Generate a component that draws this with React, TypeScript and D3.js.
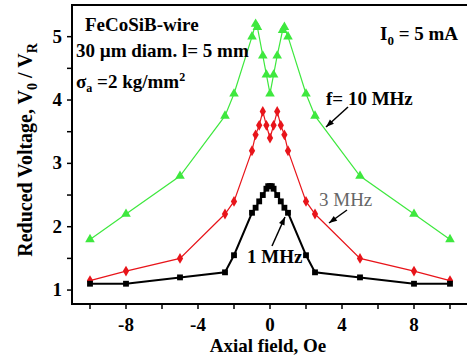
import React, { useRef, useEffect } from 'react';
import * as d3 from 'd3';

// Axial field (Oe) and reduced voltage for each frequency
const fieldGreen = [-10, -8, -5, -2.5, -2, -1, -0.8, -0.7, -0.4, -0.2, 0, 0.2, 0.4, 0.7, 0.8, 1, 2, 2.5, 5, 8, 10];
const voltGreen = [1.8, 2.2, 2.8, 3.75, 4.1, 5.0, 5.2, 5.15, 4.7, 4.4, 4.1, 4.4, 4.7, 5.1, 5.15, 5.0, 4.1, 3.75, 2.8, 2.2, 1.8];

const fieldRed = [-10, -8, -5, -2.5, -2, -1, -0.8, -0.6, -0.4, -0.2, 0, 0.2, 0.4, 0.6, 0.8, 1, 2, 2.5, 5, 8, 10];
const voltRed = [1.15, 1.3, 1.5, 2.2, 2.4, 3.2, 3.45, 3.6, 3.82, 3.6, 3.4, 3.6, 3.82, 3.6, 3.45, 3.2, 2.4, 2.2, 1.5, 1.3, 1.15];

const fieldBlack = [-10, -8, -5, -2.5, -2, -1, -0.8, -0.6, -0.4, -0.2, -0.1, 0, 0.1, 0.2, 0.4, 0.6, 0.8, 1, 2, 2.5, 5, 8, 10];
const voltBlack = [1.1, 1.1, 1.2, 1.28, 1.55, 2.22, 2.3, 2.4, 2.5, 2.6, 2.64, 2.64, 2.64, 2.6, 2.5, 2.4, 2.3, 2.22, 1.55, 1.28, 1.2, 1.1, 1.1];

const xTicks = [-8, -4, 0, 4, 8];
const xMinorTicks = [-10, -6, -2, 2, 6, 10];
const yTicks = [1, 2, 3, 4, 5];
const yMinorTicks = [1.5, 2.5, 3.5, 4.5];

const App = () => {
    const svgRef = useRef<SVGSVGElement>(null);

    useEffect(() => {
        d3.select(svgRef.current).selectAll("*").remove();

        const W = 467, H = 363;
        const svg = d3.select(svgRef.current)
            .attr("width", W)
            .attr("height", H)
            .style("background", "#fff");

        const font = "Liberation Serif, Tinos, Times New Roman, DejaVu Serif, serif";
        const left = 72, right = 468, top = 5, bottom = 304;

        const x = d3.scaleLinear().domain([-11, 11]).range([left, right]);
        const y = d3.scaleLinear().domain([0.78, 5.5]).range([bottom, top]);

        // frame
        svg.append("rect")
            .attr("x", left).attr("y", top)
            .attr("width", right - left).attr("height", bottom - top)
            .attr("fill", "none").attr("stroke", "#000").attr("stroke-width", 2);

        // ticks
        const ticksX = [...xTicks, ...xMinorTicks];
        svg.selectAll(".xt").data(ticksX).enter().append("line")
            .attr("x1", d => x(d)).attr("x2", d => x(d))
            .attr("y1", bottom).attr("y2", bottom + 5)
            .attr("stroke", "#000").attr("stroke-width", 1.5);
        const ticksY = [...yTicks, ...yMinorTicks];
        svg.selectAll(".yt").data(ticksY).enter().append("line")
            .attr("x1", left).attr("x2", left - 5)
            .attr("y1", d => y(d)).attr("y2", d => y(d))
            .attr("stroke", "#000").attr("stroke-width", 1.5);

        svg.selectAll(".xl").data(xTicks).enter().append("text")
            .attr("x", d => x(d)).attr("y", bottom + 27)
            .attr("text-anchor", "middle")
            .attr("font-family", font).attr("font-size", 19).attr("font-weight", "bold")
            .text(d => d);
        svg.selectAll(".yl").data(yTicks).enter().append("text")
            .attr("x", left - 10).attr("y", d => y(d) + 6)
            .attr("text-anchor", "end")
            .attr("font-family", font).attr("font-size", 19).attr("font-weight", "bold")
            .text(d => d);

        // axis titles
        svg.append("text")
            .attr("x", 268).attr("y", 352)
            .attr("text-anchor", "middle")
            .attr("font-family", font).attr("font-size", 19).attr("font-weight", "bold")
            .text("Axial field, Oe");

        const yt = svg.append("text")
            .attr("transform", "translate(32,150) rotate(-90)")
            .attr("text-anchor", "middle")
            .attr("font-family", font).attr("font-size", 20).attr("font-weight", "bold");
        yt.append("tspan").text("Reduced Voltage, V");
        yt.append("tspan").attr("dy", 5).attr("font-size", 14).text("0");
        yt.append("tspan").attr("dy", -5).text(" / V");
        yt.append("tspan").attr("dy", 5).attr("font-size", 14).text("R");

        // series
        const series = [
            { xs: fieldGreen, ys: voltGreen, color: "#3ee83e", width: 1.2, symbol: d3.symbolTriangle, size: 40 },
            { xs: fieldRed, ys: voltRed, color: "#e8141a", width: 1.2, symbol: d3.symbolDiamond, size: 34 },
            { xs: fieldBlack, ys: voltBlack, color: "#000", width: 2, symbol: d3.symbolSquare, size: 34 },
        ];

        series.forEach(s => {
            const pts = s.xs.map((v, i) => [v, s.ys[i]] as [number, number]);
            const line = d3.line<[number, number]>().x(d => x(d[0])).y(d => y(d[1]));
            svg.append("path")
                .datum(pts)
                .attr("fill", "none")
                .attr("stroke", s.color)
                .attr("stroke-width", s.width)
                .attr("d", line);
            svg.append("g").selectAll("path").data(pts).enter().append("path")
                .attr("transform", d => `translate(${x(d[0])},${y(d[1])})`)
                .attr("d", d3.symbol().type(s.symbol).size(s.size)())
                .attr("fill", s.color);
        });

        // annotations
        const addText = (tx: number, ty: number, txt: string, size = 19, color = "#000", weight = "bold") =>
            svg.append("text")
                .attr("x", tx).attr("y", ty)
                .attr("font-family", font).attr("font-size", size)
                .attr("font-weight", weight).attr("fill", color)
                .text(txt);

        addText(85, 31, "FeCoSiB-wire");
        addText(76, 57, "30 µm diam. l= 5 mm");
        const sig = svg.append("text")
            .attr("x", 76).attr("y", 88)
            .attr("font-family", font).attr("font-size", 19).attr("font-weight", "bold");
        sig.append("tspan").text("σ");
        sig.append("tspan").attr("dy", 4).attr("font-size", 12).text("a");
        sig.append("tspan").attr("dy", -4).text(" =2 kg/mm");
        sig.append("tspan").attr("dy", -7).attr("font-size", 12).text("2");

        const io = svg.append("text")
            .attr("x", 380).attr("y", 40)
            .attr("font-family", font).attr("font-size", 19).attr("font-weight", "bold");
        io.append("tspan").text("I");
        io.append("tspan").attr("dy", 5).attr("font-size", 13).text("0");
        io.append("tspan").attr("dy", -5).text(" = 5 mA");

        addText(326, 105, "f= 10 MHz");
        addText(319, 206, "3 MHz", 19, "#666", "normal");
        addText(247, 263, "1 MHz");

        // arrows
        const arrows = [
            [348, 107, 326, 127],
            [347, 210, 329, 223],
            [272, 246, 285, 217],
        ];
        arrows.forEach(([x1, y1, x2, y2]) => {
            svg.append("line")
                .attr("x1", x1).attr("y1", y1).attr("x2", x2).attr("y2", y2)
                .attr("stroke", "#000").attr("stroke-width", 1.5);
            const ang = Math.atan2(y2 - y1, x2 - x1);
            const L = 8, w = 3;
            const bx = x2 - L * Math.cos(ang), by = y2 - L * Math.sin(ang);
            const px = -Math.sin(ang) * w, py = Math.cos(ang) * w;
            svg.append("path")
                .attr("d", `M${x2},${y2}L${bx + px},${by + py}L${bx - px},${by - py}Z`)
                .attr("fill", "#000");
        });
    }, []);

    return <svg ref={svgRef} style={{ position: 'absolute', left: 0, top: 0 }}></svg>;
};

export default App;
